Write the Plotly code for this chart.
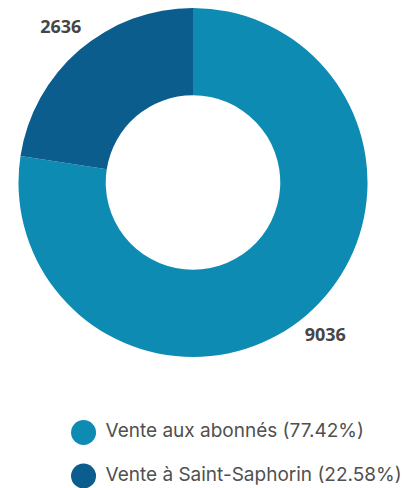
import math
import plotly.graph_objects as go

categories = ["Vente aux abonnés", "Vente à Saint-Saphorin"]
values = [9036, 2636]
colors = ["#0e8bb3", "#0a5d8c"]

total = sum(values)
legend_labels = ["\u00a0" + f"{c} ({v / total * 100:.2f}%)" for c, v in zip(categories, values)]

W, H = 415, 488
pie_domain = dict(x=[0.0241, 0.8675], y=[0.2848, 1.0])
label_radius = 1.163  # label distance, relative to the pie radius

# pie geometry in pixels (same rule plotly uses: radius = half of the smaller domain side)
dom_w = (pie_domain["x"][1] - pie_domain["x"][0]) * W
dom_h = (pie_domain["y"][1] - pie_domain["y"][0]) * H
r_px = min(dom_w, dom_h) / 2
cx_px = (pie_domain["x"][0] + pie_domain["x"][1]) / 2 * W
cy_px = (pie_domain["y"][0] + pie_domain["y"][1]) / 2 * H  # from bottom

# mid-angle of each slice (clockwise from 12 o'clock), derived from the values
mid_angles = []
acc = 0
for v in values:
    mid_angles.append((acc + v / 2) / total * 2 * math.pi)
    acc += v
lab_x = [label_radius * math.sin(a) for a in mid_angles]
lab_y = [label_radius * math.cos(a) for a in mid_angles]

fig = go.Figure()

fig.add_trace(go.Pie(
    labels=categories,
    values=values,
    hole=0.5,
    sort=False,
    direction="clockwise",
    rotation=0,
    marker=dict(colors=colors, line=dict(width=0)),
    textinfo="none",
    showlegend=False,
    hoverinfo="label+value+percent",
    domain=pie_domain,
))

fig.add_trace(go.Scatter(
    x=lab_x,
    y=lab_y,
    xaxis="x2",
    yaxis="y2",
    mode="text",
    text=[str(v) for v in values],
    textposition="middle center",
    textfont=dict(family="Open Sans", size=18, color="#464646", weight="bold"),
    showlegend=False,
    hoverinfo="skip",
    cliponaxis=False,
))

fig.add_trace(go.Scatter(
    x=[0, 0],
    y=[1, 0],
    mode="markers+text",
    marker=dict(size=25, color=colors, symbol="circle", line=dict(width=0)),
    text=legend_labels,
    textposition="middle right",
    textfont=dict(family="Inter", size=19, color="#505050"),
    showlegend=False,
    hoverinfo="skip",
    cliponaxis=False,
))

fig.update_layout(
    width=W,
    height=H,
    margin=dict(l=0, r=0, t=0, b=0),
    paper_bgcolor="white",
    plot_bgcolor="rgba(0,0,0,0)",
    xaxis=dict(domain=[0, 1], range=[-0.91, 4.09], visible=False, fixedrange=True),
    yaxis=dict(domain=[0, 0.2], range=[-0.46, 1.784], visible=False, fixedrange=True),
    xaxis2=dict(domain=[0, 1], range=[-cx_px / r_px, (W - cx_px) / r_px],
                visible=False, fixedrange=True, anchor="y2"),
    yaxis2=dict(domain=[0, 1], range=[-cy_px / r_px, (H - cy_px) / r_px],
                visible=False, fixedrange=True, anchor="x2"),
)

fig.write_html("out.html")
